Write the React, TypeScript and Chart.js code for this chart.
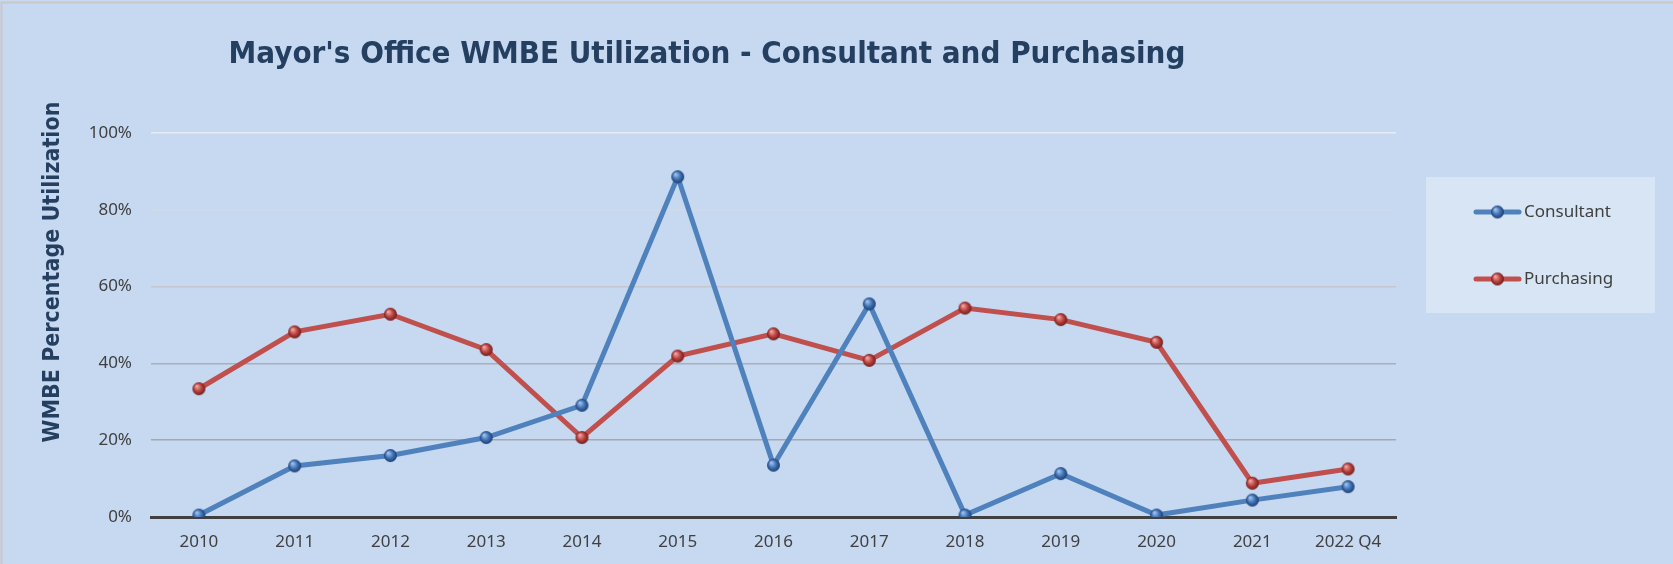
import React, { useEffect, useRef } from "react";
import { Chart, registerables } from "chart.js";

Chart.register(...registerables);

const categories = ["2010", "2011", "2012", "2013", "2014", "2015", "2016", "2017", "2018", "2019", "2020", "2021", "2022 Q4"];
const consultant = [0.5, 13.3, 16.0, 20.7, 29.1, 88.6, 13.5, 55.5, 0.5, 11.3, 0.5, 4.4, 7.9];
const purchasing = [33.4, 48.2, 52.8, 43.6, 20.7, 41.9, 47.7, 40.8, 54.4, 51.4, 45.5, 8.8, 12.5];
const yTicks = [0, 20, 40, 60, 80, 100];

const TITLE = "Mayor's Office WMBE Utilization - Consultant and Purchasing";
const Y_TITLE = "WMBE Percentage Utilization";

function sphere(light: string, mid: string, dark: string, r: number) {
  const c = document.createElement("canvas");
  const s = r * 2 + 2;
  c.width = s;
  c.height = s;
  const g = c.getContext("2d")!;
  const cx = s / 2;
  const grad = g.createRadialGradient(cx - r * 0.35, cx - r * 0.4, r * 0.1, cx, cx, r);
  grad.addColorStop(0, light);
  grad.addColorStop(0.55, mid);
  grad.addColorStop(1, dark);
  g.fillStyle = grad;
  g.beginPath();
  g.arc(cx, cx, r, 0, Math.PI * 2);
  g.fill();
  return c;
}

const bgPlugin = {
  id: "bgPlugin",
  beforeDraw(chart: any) {
    const { ctx, width, height } = chart;
    ctx.save();
    ctx.fillStyle = "#C6D9F1";
    ctx.fillRect(0, 0, width, height);
    ctx.strokeStyle = "#C8C8C8";
    ctx.lineWidth = 2;
    ctx.beginPath();
    ctx.moveTo(1.5, height);
    ctx.lineTo(1.5, 2.5);
    ctx.lineTo(width, 2.5);
    ctx.stroke();
    ctx.restore();
  },
  afterDraw(chart: any) {
    const { ctx } = chart;
    ctx.save();
    // title
    ctx.fillStyle = "#243F60";
    ctx.font = 'bold 31px "DejaVu Sans Condensed", "DejaVu Sans", sans-serif';
    ctx.textAlign = "center";
    ctx.textBaseline = "middle";
    ctx.fillText(TITLE, 707, 55);
    // y title
    ctx.save();
    ctx.translate(53, 272);
    ctx.rotate(-Math.PI / 2);
    ctx.font = 'bold 23px "DejaVu Sans Condensed", "DejaVu Sans", sans-serif';
    ctx.fillText(Y_TITLE, 0, 0);
    ctx.restore();
    // legend
    ctx.fillStyle = "rgba(222, 232, 244, 0.75)";
    ctx.fillRect(1426, 177, 229, 136);
    const ys = [212, 279];
    chart.data.datasets.forEach((ds: any, i: number) => {
      const y = ys[i];
      ctx.strokeStyle = ds.borderColor;
      ctx.lineWidth = 5;
      ctx.lineCap = "round";
      ctx.beginPath();
      ctx.moveTo(1476, y);
      ctx.lineTo(1519, y);
      ctx.stroke();
      ctx.drawImage(ds.pointStyle, 1497.5 - ds.pointStyle.width / 2, y - ds.pointStyle.height / 2);
      ctx.fillStyle = "#404040";
      ctx.font = '17px "Noto Sans", sans-serif';
      ctx.textAlign = "left";
      ctx.textBaseline = "middle";
      ctx.fillText(ds.label, 1524, y);
    });
    ctx.restore();
  },
};

const gridColors: Record<number, string> = {
  0: "rgba(0,0,0,0)",
  20: "#A6A8AE",
  40: "#AAAEB6",
  60: "#C4C8CE",
  80: "#D6D8DC",
  100: "#E6ECF4",
};

export default function App() {
  const ref = useRef<HTMLCanvasElement>(null);
  useEffect(() => {
    const blueDot = sphere("#9DC0EC", "#3F70B3", "#1C3F70", 6.5);
    const redDot = sphere("#F2A3A0", "#B8413D", "#6E1D1B", 6.5);
    const chart = new Chart(ref.current!, {
      type: "line",
      data: {
        labels: categories,
        datasets: [
          {
            label: "Consultant",
            data: consultant,
            borderColor: "#4F81BD",
            borderWidth: 5,
            pointStyle: blueDot as any,
            pointRadius: 6,
            tension: 0,
          },
          {
            label: "Purchasing",
            data: purchasing,
            borderColor: "#C0504D",
            borderWidth: 5,
            pointStyle: redDot as any,
            pointRadius: 6,
            tension: 0,
          },
        ],
      },
      options: {
        animation: false,
        responsive: false,
        layout: { padding: { left: 0, top: 133, right: 277, bottom: 0 } },
        plugins: {
          legend: { display: false },
          title: { display: false },
          tooltip: { enabled: false },
        },
        scales: {
          x: {
            offset: true,
            grid: { display: false, drawTicks: false },
            border: { display: true, color: "#404040", width: 3 },
            ticks: {
              color: "#404040",
              font: { family: "Noto Sans", size: 17 },
              padding: 15,
              maxRotation: 0,
              autoSkip: false,
            },
            afterFit: (s: any) => {
              s.height = 47;
            },
          },
          y: {
            min: 0,
            max: 100,
            afterBuildTicks: (s: any) => {
              s.ticks = yTicks.map((v) => ({ value: v }));
            },
            grid: {
              drawTicks: false,
              color: (c: any) => gridColors[c.tick?.value] ?? "#C0C0C0",
              lineWidth: 1.5,
            },
            border: { display: false },
            ticks: {
              color: "#404040",
              font: { family: "Noto Sans", size: 17 },
              padding: 19,
              callback: (v: any) => v + "%",
            },
            afterFit: (s: any) => {
              s.width = 151;
            },
          },
        },
      },
      plugins: [bgPlugin],
    });
    return () => chart.destroy();
  }, []);
  return (
    <div style={{ position: "fixed", left: 0, top: 0, width: 1673, height: 564 }}>
      <canvas ref={ref} width={1673} height={564} style={{ display: "block" }} />
    </div>
  );
}
